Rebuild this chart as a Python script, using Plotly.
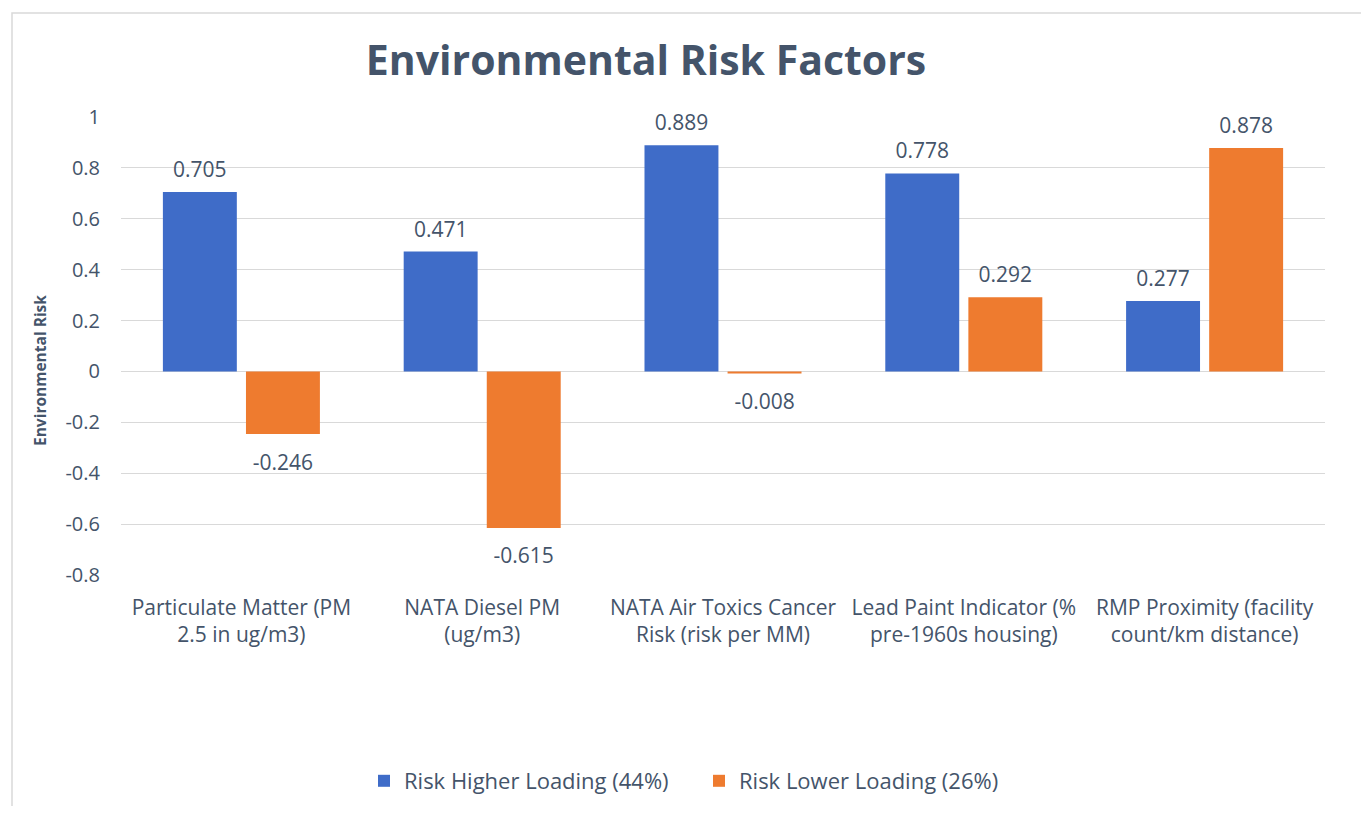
import plotly.graph_objects as go

categories = [
    "Particulate Matter (PM<br>2.5 in ug/m3)",
    "NATA Diesel PM<br>(ug/m3)",
    "NATA Air Toxics Cancer<br>Risk (risk per MM)",
    "Lead Paint Indicator (%<br>pre-1960s housing)",
    "RMP Proximity (facility<br>count/km distance)",
]
higher = [0.705, 0.471, 0.889, 0.778, 0.277]
lower = [-0.246, -0.615, -0.008, 0.292, 0.878]
series_names = ["Risk Higher Loading (44%)", "Risk Lower Loading (26%)"]
tick_vals = [-0.8, -0.6, -0.4, -0.2, 0, 0.2, 0.4, 0.6, 0.8, 1]
tick_text = ["-0.8", "-0.6", "-0.4", "-0.2", "0", "0.2", "0.4", "0.6", "0.8", "1"]

OFF = 8  # default body margin of the html page
W, H = 1369 - 2 * OFF, 814 - 2 * OFF
PX0, PX1, PY0, PY1 = 121, 1325, 117, 575
L = PX0 - OFF
T = PY0 - OFF
R = W + OFF - PX1
B = H + OFF - PY1
TXT = "#44546A"
FONT = "Open Sans"
COLORS = ["#3F6CC8", "#EE7B2F"]
GAP = 0.31

fig = go.Figure()
for name, vals, col in zip(series_names, [higher, lower], COLORS):
    fig.add_trace(go.Bar(
        x=categories, y=vals, name=name,
        marker=dict(color=col, line=dict(width=0)),
    ))
# value labels, grouped like the bars
for vals in [higher, lower]:
    fig.add_trace(go.Scatter(
        x=categories, y=vals, mode="markers+text", showlegend=False, hoverinfo="skip",
        marker=dict(size=[14 if v >= 0 else 30 for v in vals], color="rgba(0,0,0,0)",
                    opacity=0, line=dict(width=0, color="rgba(0,0,0,0)")),
        text=[f"{v:.3f}" for v in vals],
        textposition=["top center" if v >= 0 else "bottom center" for v in vals],
        textfont=dict(size=21, color=TXT, family=FONT), cliponaxis=False,
    ))

pw = PX1 - PX0
ph = PY1 - PY0
fig.add_shape(type="rect", xref="paper", yref="paper",
              x0=(12 - PX0) / pw, x1=(1366 - PX0) / pw,
              y0=(PY1 - 812) / ph, y1=(PY1 - 13) / ph,
              line=dict(color="#D9D9D9", width=1.5), fillcolor="rgba(0,0,0,0)", layer="below")
fig.add_annotation(text="<b>Environmental Risk</b>", xref="paper", yref="paper",
                   x=(40 - PX0) / pw, y=(PY1 - 371) / ph, textangle=-90, showarrow=False,
                   xanchor="center", yanchor="middle", font=dict(size=15.5, color=TXT, family=FONT))

fig.update_layout(
    width=W, height=H,
    margin=dict(l=L, r=R, t=T, b=B, autoexpand=False),
    paper_bgcolor="white", plot_bgcolor="white",
    barmode="group", bargap=GAP, bargroupgap=0.11,
    scattermode="group", scattergap=GAP,
    font=dict(family=FONT, color=TXT),
    title=dict(text="<b>Environmental Risk Factors</b>", x=(646 - PX0) / pw, xref="paper", xanchor="center",
               y=1 - (61 - OFF) / H, yanchor="middle", font=dict(size=41, color=TXT, family=FONT)),
    xaxis=dict(showline=False, ticks="", tickfont=dict(size=21, color=TXT, family=FONT), showgrid=False,
               ticklabelstandoff=18),
    yaxis=dict(range=[-0.8, 1], tickvals=tick_vals, ticktext=tick_text, showgrid=True,
               gridcolor="#D9D9D9", gridwidth=1, zeroline=True, zerolinecolor="#D9D9D9", zerolinewidth=1,
               tickfont=dict(size=20, color=TXT, family=FONT), ticks="", showline=False,
               ticklabelstandoff=20),
    legend=dict(orientation="h", x=(699 - PX0) / pw, xanchor="center", y=(PY1 - 781) / ph, yanchor="middle",
                font=dict(size=22, color=TXT, family=FONT), itemwidth=30, traceorder="normal",
                entrywidth=290, entrywidthmode="pixels"),
    showlegend=True,
)

fig.write_html("out.html")
